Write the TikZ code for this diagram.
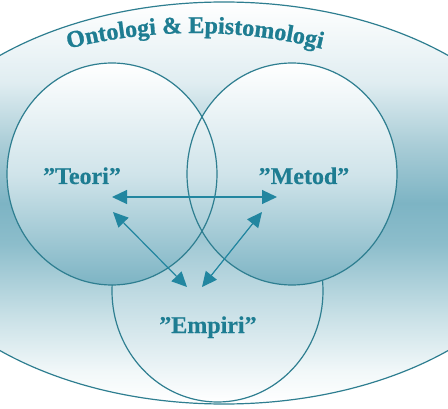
\documentclass[tikz,border=0pt]{standalone}
\usepackage{fontspec}
\setmainfont{Liberation Serif}
\newfontfamily\titlefont{Liberation Serif Bold}[FakeBold=1]
\newfontfamily\lblfont{Liberation Serif Bold}[FakeBold=0.4]
\usetikzlibrary{arrows.meta,decorations.text}
\definecolor{linec}{HTML}{2E7E90}
\definecolor{textc}{HTML}{1E7D92}
\definecolor{arrc}{HTML}{2286A0}
\definecolor{oA}{HTML}{F2F8F9}
\definecolor{oB}{HTML}{C8E0E6}
\definecolor{oC}{HTML}{8CBDCB}
\definecolor{oD}{HTML}{7DB4C4}
\definecolor{oE}{HTML}{A8CCD6}
\definecolor{oF}{HTML}{E0EDF1}
\definecolor{cmid}{HTML}{D0E4EA}
\definecolor{cbot}{HTML}{7DB4C4}
\pgfdeclareverticalshading{outershade}{100bp}{color(0bp)=(white); color(25bp)=(white); color(29bp)=(oA); color(36bp)=(oB); color(45bp)=(oC); color(50bp)=(oD); color(57bp)=(oE); color(65bp)=(oF); color(75bp)=(white); color(100bp)=(white)}
\tikzset{
  outline/.style={draw=linec, line width=1.2pt},
  topcirc/.style={top color=white, bottom color=cbot, middle color=cmid},
  botcirc/.style={top color=cbot, bottom color=white},
  lbl/.style={text=textc, font=\lblfont\fontsize{24}{28}\selectfont, anchor=base, inner sep=0pt},
  arr/.style={draw=arrc, line width=1.2pt, {Triangle[length=15pt,width=14pt]}-{Triangle[length=15pt,width=14pt]}}
}
\begin{document}
\begin{tikzpicture}[x=1pt,y=1pt]
\useasboundingbox (0,0) rectangle (448,408);
\begin{scope}
\clip (0,0) rectangle (448,408);
\path[shading=outershade] (224,205) ellipse [x radius=330, y radius=201];
\draw[outline] (224,205) ellipse [x radius=330, y radius=201];
\end{scope}
% bottom circle
\path[botcirc] (217.5,117) ellipse [x radius=105.5, y radius=111];
\draw[outline] (217.5,117) ellipse [x radius=105.5, y radius=111];
% top circles
\path[topcirc] (112,234) ellipse [x radius=105, y radius=111];
\path[topcirc] (292,234) ellipse [x radius=105, y radius=111];
\draw[outline] (112,234) ellipse [x radius=105, y radius=111];
\draw[outline] (292,234) ellipse [x radius=105, y radius=111];
% labels
\node[lbl] (teori) at (82,224) {”Teori”};
\node[lbl] (metod) at (304,224) {”Metod”};
\node[lbl] (empiri) at (208,75) {”Empiri”};
% arrow ends
\coordinate (tH) at (112,211);
\coordinate (mH) at (277,211);
\coordinate (tD) at (113,196);
\coordinate (eL) at (187,121);
\coordinate (mD) at (262,196);
\coordinate (eR) at (202,121);
\draw[arr] (tH) -- (mH);
\draw[arr] (tD) -- (eL);
\draw[arr] (mD) -- (eR);
% title along arc
\path[decorate, decoration={text along path, text align=center,
  text={|\titlefont\fontsize{24}{28}\selectfont\color{textc}|Ontologi {\&} Epistomologi}}]
  (195,-145) ++(107.3:520) arc[start angle=107.3, end angle=72.7, radius=520];
\end{tikzpicture}
\end{document}
